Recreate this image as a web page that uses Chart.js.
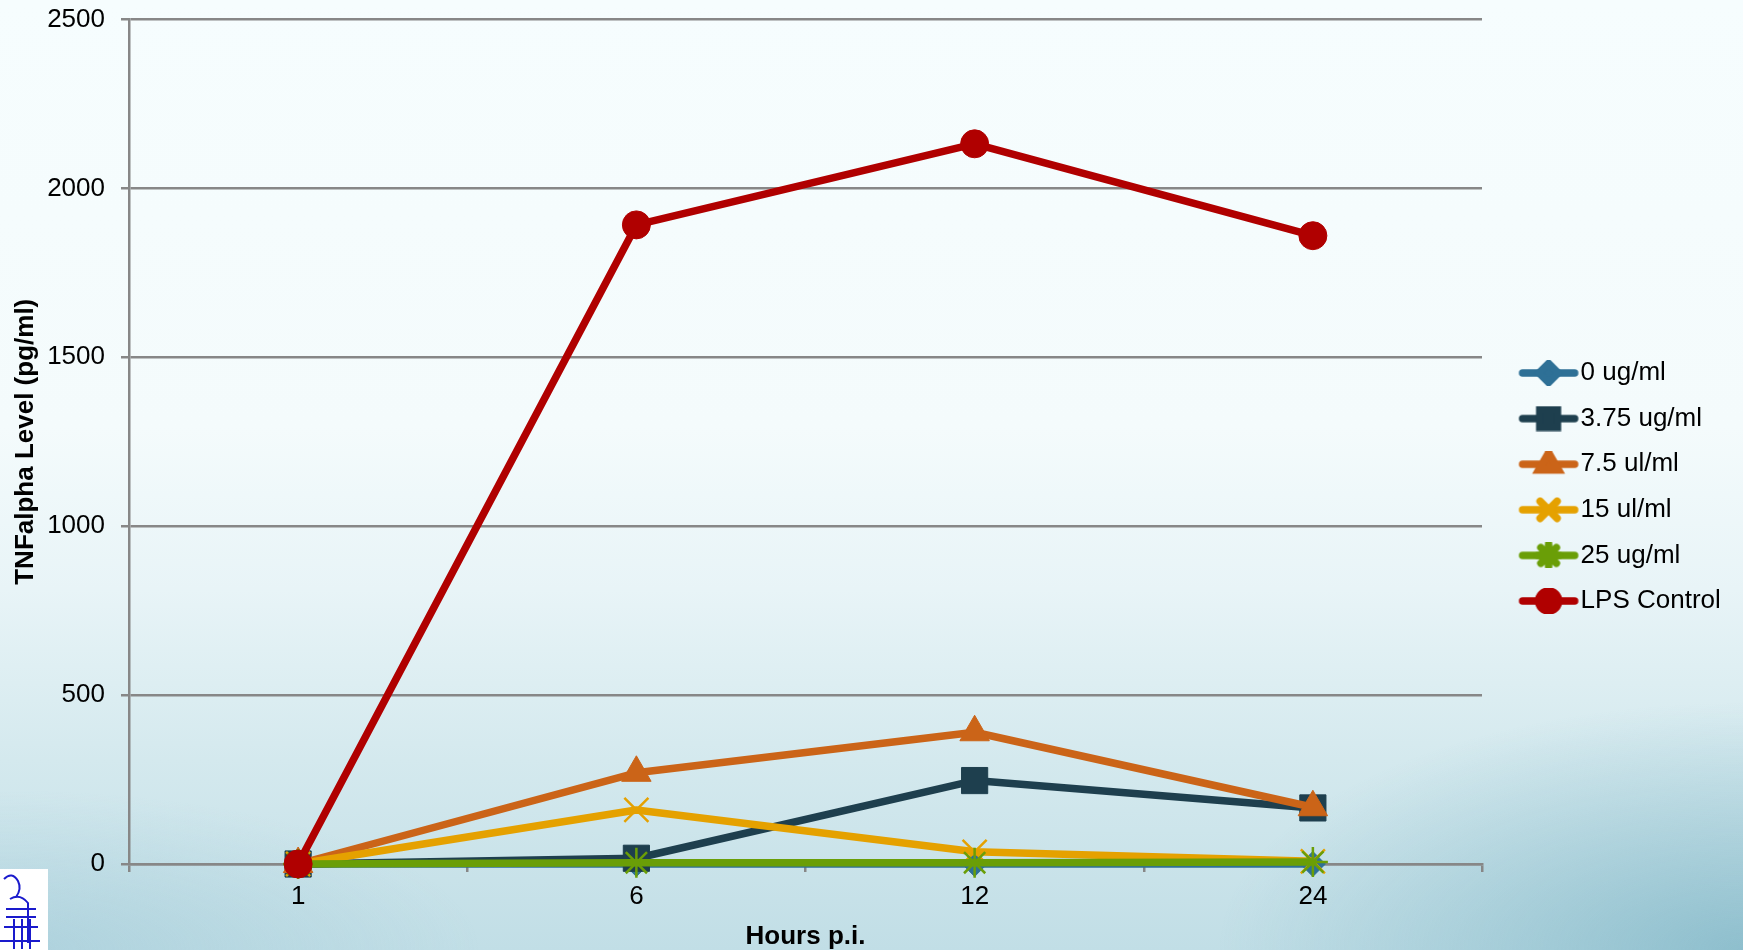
<!DOCTYPE html>
<html>
<head>
<meta charset="utf-8">
<script src="https://cdn.jsdelivr.net/npm/chart.js@4.4.1/dist/chart.umd.min.js"></script>
<style>
html, body { margin: 0; padding: 0; width: 1743px; height: 950px; overflow: hidden; }
body {
  background:
    radial-gradient(ellipse 700px 330px at 100% 100%, rgba(100,165,185,0.55), rgba(100,165,185,0) 75%),
    radial-gradient(ellipse 600px 200px at 0% 100%, rgba(150,195,210,0.45), rgba(150,195,210,0) 80%),
    linear-gradient(to bottom, #f6fdfe 0%, #f4fbfc 45%, #e8f4f7 62%, #d4e9ee 80%, #c1dee6 100%);
}
#logo { position: absolute; left: 0; top: 869px; width: 48px; height: 81px; background: #ffffff; }
#wrap { position: absolute; left: 0; top: 0; width: 1743px; height: 950px; }
</style>
</head>
<body>
<div id="logo">
  <svg width="48" height="81" viewBox="0 0 48 81">
    <g fill="none" stroke="#1a1acc" stroke-width="2">
      <path d="M4 10 q8 -8 14 2 q4 8 -2 16"/>
      <path d="M10 30 q10 -6 18 4 l0 40"/>
      <path d="M6 40 l30 0 M6 48 l30 0 M4 58 l34 0"/>
      <path d="M14 50 l0 30 M22 50 l0 30 M30 50 l0 30"/>
      <path d="M0 72 l40 0"/>
    </g>
  </svg>
</div>
<div id="wrap"><canvas id="c"></canvas></div>
<script>
// ---- data ----
const categories = ['1', '6', '12', '24'];
const seriesNames = ['0 ug/ml', '3.75 ug/ml', '7.5 ul/ml', '15 ul/ml', '25 ug/ml', 'LPS Control'];
const s0ug = [0, 0, 0, 0];
const s375ug = [0, 17, 247, 166];
const s75ul = [0, 270, 390, 168];
const s15ul = [0, 160, 36, 8];
const s25ug = [0, 4, 4, 6];
const sLPS = [0, 1892, 2132, 1860];
const yTicks = [0, 500, 1000, 1500, 2000, 2500];
const xTitle = 'Hours p.i.';
const yTitle = 'TNFalpha Level (pg/ml)';

// ---- styles ----
const seriesValues = [s0ug, s375ug, s75ul, s15ul, s25ug, sLPS];
const colors = ['#2E7096', '#1E3F4E', '#CB6418', '#E5A100', '#6A9E07', '#B00000'];
const pStyles = ['rectRot', 'rect', 'triangle', 'crossRot', 'star', 'circle'];
const pRadius = [12.5, 18.5, 17, 17, 15, 14];
const pBorder = [1, 1, 1, 2.5, 2.5, 1];
const legRadius = [9.5, 12.5, 11.5, 12, 11, 10];
const legBorder = [1, 1, 1, 1.5, 1.5, 1];
const FONT = '"Liberation Sans", Arial, Helvetica, sans-serif';

function makeLegendImg(i) {
  const cv = document.createElement('canvas');
  cv.width = 62; cv.height = 26;
  const ctx = cv.getContext('2d');
  ctx.strokeStyle = colors[i];
  ctx.lineWidth = 7.5;
  ctx.lineCap = 'round';
  ctx.beginPath(); ctx.moveTo(5, 13); ctx.lineTo(57, 13); ctx.stroke();
  ctx.fillStyle = colors[i];
  ctx.strokeStyle = colors[i];
  Chart.helpers.drawPoint(ctx, {
    pointStyle: pStyles[i], radius: legRadius[i], rotation: 0,
    borderWidth: legBorder[i]
  }, 31, 13);
  return cv;
}
const legendImgs = seriesNames.map((_, i) => makeLegendImg(i));

const datasets = seriesNames.map((name, i) => ({
  label: name,
  data: seriesValues[i],
  borderColor: colors[i],
  backgroundColor: colors[i],
  pointBackgroundColor: colors[i],
  pointBorderColor: colors[i],
  borderWidth: 7.5,
  borderJoinStyle: 'round',
  borderCapStyle: 'round',
  tension: 0,
  pointStyle: pStyles[i],
  pointRadius: pRadius[i],
  pointHoverRadius: pRadius[i],
  pointBorderWidth: pBorder[i],
  order: seriesNames.length - 1 - i,
  clip: false
}));

const layoutPlugin = {
  id: 'layoutFix',
  beforeLayout(chart) {
    const lg = chart.legend;
    if (lg && !lg._wrapped) {
      const f = lg.fit;
      lg.fit = function () { f.call(this); this.width = 261; };
      lg._wrapped = true;
    }
  },
  afterLayout(chart) {
    const lg = chart.legend;
    if (lg) { lg.left = 1510; lg.right = 1743; lg.top += 3; lg.bottom += 3; }
  }
};

const gridColor = '#878787';
const noPad = (s) => { s.paddingTop = 0; s.paddingBottom = 0; s.paddingLeft = 0; s.paddingRight = 0; };

new Chart(document.getElementById('c'), {
  type: 'line',
  data: { labels: categories, datasets },
  plugins: [layoutPlugin],
  options: {
    responsive: true,
    maintainAspectRatio: false,
    animation: false,
    layout: { padding: { left: 0, top: 18, right: 0, bottom: 0 } },
    plugins: {
      legend: {
        position: 'right',
        align: 'center',
        labels: {
          usePointStyle: true,
          pointStyleWidth: 38,
          padding: 19.6,
          color: '#000',
          font: { family: FONT, size: 26 },
          sort: (a, b) => a.datasetIndex - b.datasetIndex,
          generateLabels: (chart) => Chart.defaults.plugins.legend.labels.generateLabels(chart)
            .map(it => Object.assign({}, it, { pointStyle: legendImgs[it.datasetIndex] }))
        }
      },
      tooltip: { enabled: false }
    },
    scales: {
      x: {
        type: 'category',
        offset: true,
        afterFit: (s) => { s.height = 86; noPad(s); },
        grid: { offset: true, drawOnChartArea: false, drawTicks: true, tickLength: 8, color: gridColor, lineWidth: 2.5 },
        border: { color: gridColor, width: 2.5 },
        ticks: { color: '#000', font: { family: FONT, size: 26 }, padding: 9.5, maxRotation: 0 },
        title: { display: true, text: xTitle, color: '#000', font: { family: FONT, size: 26, weight: 'bold', lineHeight: 1.05 }, padding: { top: 0, bottom: 0 } }
      },
      y: {
        min: 0,
        max: 2500,
        afterFit: (s) => { s.width = 129; noPad(s); },
        afterBuildTicks: (s) => { s.ticks = yTicks.map(v => ({ value: v })); },
        grid: { color: gridColor, lineWidth: 2.5, tickLength: 8, drawTicks: true },
        border: { color: gridColor, width: 2.5 },
        ticks: { color: '#000', font: { family: FONT, size: 26 }, padding: 16, callback: (v) => String(v) },
        title: { display: true, text: yTitle, color: '#000', font: { family: FONT, size: 26, weight: 'bold' }, padding: { top: 10, bottom: 0 } }
      }
    }
  }
});
</script>
</body>
</html>
